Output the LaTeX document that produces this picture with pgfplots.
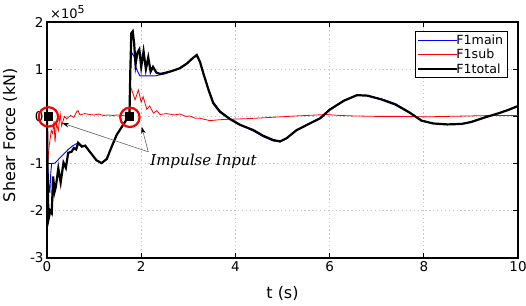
\documentclass[border=0pt]{standalone}
\usepackage{pgfplots}
\pgfplotsset{compat=1.18}
\usepackage{fontspec}
\setmainfont{DejaVu Sans}
\newfontfamily\annfont{DejaVu Serif}
\usetikzlibrary{arrows.meta}

\pgfplotstableread{
t v
0 0
0.01 -1.0
0.03 -2.19
0.07 -2.0
0.1 -2.05
0.13 -1.27
0.16 -1.6
0.19 -1.48
0.24 -1.1
0.29 -1.4
0.35 -0.98
0.40 -1.09
0.45 -0.77
0.52 -0.75
0.57 -0.67
0.62 -0.7
0.66 -0.56
0.74 -0.64
0.81 -0.62
0.91 -0.75
1.05 -0.93
1.16 -0.99
1.27 -0.9
1.37 -0.65
1.48 -0.39
1.59 -0.22
1.68 -0.08
1.75 0.0
1.77 1.0
1.79 1.76
1.82 1.80
1.85 1.55
1.88 1.1
1.92 1.35
1.96 1.42
2.0 1.05
2.05 1.38
2.1 1.0
2.15 1.25
2.2 0.95
2.25 1.05
2.32 0.93
2.4 0.9
2.5 0.92
2.65 0.96
2.82 1.02
2.97 1.12
3.1 1.24
3.18 1.30
3.25 1.15
3.32 0.91
3.43 0.56
3.53 0.28
3.67 0.10
3.89 -0.06
4.1 -0.18
4.38 -0.29
4.59 -0.41
4.8 -0.5
4.95 -0.53
5.09 -0.46
5.3 -0.29
5.58 -0.15
5.8 -0.04
6.0 0.14
6.3 0.33
6.58 0.45
6.8 0.44
7.1 0.36
7.4 0.25
7.7 0.08
7.95 -0.09
8.2 -0.15
8.5 -0.17
8.8 -0.16
9.0 -0.12
9.3 -0.02
9.6 0.07
9.8 0.14
10 0.22
}\total

\pgfplotstableread{
t v
0 0
0.01 -1.0
0.04 -1.45
0.06 -1.62
0.08 -1.2
0.1 -1.0
0.17 -0.99
0.3 -0.85
0.45 -0.7
0.55 -0.62
0.66 -0.56
0.74 -0.62
0.81 -0.63
0.91 -0.75
1.05 -0.93
1.16 -0.99
1.27 -0.9
1.37 -0.65
1.48 -0.39
1.59 -0.22
1.68 -0.08
1.75 0.0
1.77 1.0
1.8 1.35
1.85 1.27
1.9 1.0
1.97 0.86
2.1 0.86
2.3 0.86
2.5 0.9
2.65 0.96
2.82 1.02
2.97 1.12
3.1 1.24
3.18 1.30
3.25 1.15
3.32 0.92
3.43 0.58
3.53 0.31
3.67 0.12
3.89 -0.05
4.1 -0.17
4.38 -0.31
4.59 -0.43
4.8 -0.52
4.95 -0.54
5.09 -0.47
5.3 -0.29
5.58 -0.14
5.8 -0.03
6.0 0.15
6.3 0.34
6.58 0.45
6.8 0.44
7.1 0.37
7.4 0.27
7.7 0.09
7.95 -0.08
8.2 -0.15
8.5 -0.17
8.8 -0.16
9.0 -0.12
9.3 -0.02
9.6 0.07
9.8 0.14
10 0.22
}\mainf

\pgfplotstableread{
t v
0 0
0.01 -0.99
0.05 -0.6
0.09 -0.3
0.12 -0.36
0.15 -0.1
0.17 -0.55
0.2 -0.15
0.24 -0.3
0.28 0.05
0.31 -0.2
0.37 0.0
0.42 -0.05
0.5 0.02
0.57 -0.02
0.63 0.1
0.66 0.12
0.7 0.03
0.8 0.06
0.9 0.04
1.0 0.03
1.1 0.05
1.2 0.02
1.3 0.03
1.4 0.02
1.5 0.03
1.6 0.02
1.7 0.0
1.75 -0.02
1.77 0.63
1.8 0.56
1.87 0.35
1.94 0.56
2.0 0.3
2.04 0.42
2.12 0.15
2.18 0.22
2.26 0.07
2.33 0.12
2.4 0.04
2.54 0.06
2.7 0.03
2.82 0.05
2.95 0.0
3.03 0.01
3.15 -0.04
3.25 -0.04
3.46 -0.09
3.67 -0.07
3.89 -0.06
4.2 -0.05
4.59 -0.03
5.3 0.01
5.94 0.04
6.2 0.02
6.5 0.01
7.0 0.0
7.5 0.0
8.0 -0.01
8.5 0.0
9.0 0.01
9.5 0.02
10 0.02
}\subf

\pgfplotstableread{
t v
0.03 -0.01
1.76 -0.02
}\circles

\pgfplotstableread{
t v
0.03 0.0
1.74 0.0
}\squares

\begin{document}
\begin{tikzpicture}
\begin{axis}[
  scale only axis, width=471pt, height=236pt,
  xmin=0, xmax=10, ymin=-3, ymax=2,
  clip mode=individual,
  xtick={0,2,4,6,8,10}, ytick={-3,-2,-1,0,1,2},
  tick align=inside, major tick length=5pt,
  axis line style={line width=1.6pt},
  tick style={black, line width=1pt},
  grid=major, grid style={gray!45, line width=1.1pt, dash pattern=on 1.3pt off 2.6pt},
  ticklabel style={font=\fontsize{13.5}{13.5}\selectfont},
  /pgf/number format/assume math mode=true,
  xlabel={t (s)}, ylabel={Shear Force (kN)},
  label style={font=\fontsize{16}{16}\selectfont},
  xlabel style={at={(axis description cs:0.5,0)}, anchor=center, yshift=-35pt},
  ylabel style={at={(axis description cs:-0.0786,0.52)}, anchor=center},
  legend cell align=left,
  legend image code/.code={\draw[#1] (0pt,0pt) -- (39pt,0pt);},
  legend style={at={(rel axis cs:0.9785,0.962)}, anchor=north east,
    draw=black, line width=1.3pt, font=\fontsize{12.6}{12.6}\selectfont,
    inner xsep=2pt, inner ysep=1pt, row sep=-0.5pt,
    /tikz/every odd column/.append style={column sep=-4pt}},
]
\addplot[blue, line width=0.9pt] table {\mainf};
\addlegendentry{F1main}
\addplot[red, line width=0.8pt] table {\subf};
\addlegendentry{F1sub}
\addplot[black, line width=2.2pt] table {\total};
\addlegendentry{F1total}
\addplot[only marks, mark=square*, mark size=3.8pt, black, forget plot] table {\squares};
\addplot[only marks, mark=o, mark size=9.7pt, red, line width=2.2pt, forget plot] table {\circles};
\draw[gray!60!black, line width=0.5pt, -{Stealth[black,length=7pt,width=4.5pt]}] (axis cs:2.15,-0.75) -- (axis cs:0.32,-0.14);
\draw[gray!60!black, line width=0.5pt, -{Stealth[black,length=7pt,width=4.5pt]}] (axis cs:2.15,-0.75) -- (axis cs:2.01,-0.22);
\node[anchor=west, inner sep=0pt, font=\annfont\itshape\fontsize{15}{15}\selectfont] at (axis cs:2.19,-0.95) {Impulse Input};
\node[anchor=base west, inner sep=0pt, font=\fontsize{13}{13}\selectfont, xshift=3pt, yshift=3pt] at (rel axis cs:0,1) {×10\raisebox{5pt}{\fontsize{11}{11}\selectfont 5}};
\end{axis}
\pgfresetboundingbox
\path[use as bounding box] (-47pt,-47pt) rectangle (479pt,258pt);
\end{tikzpicture}
\end{document}
